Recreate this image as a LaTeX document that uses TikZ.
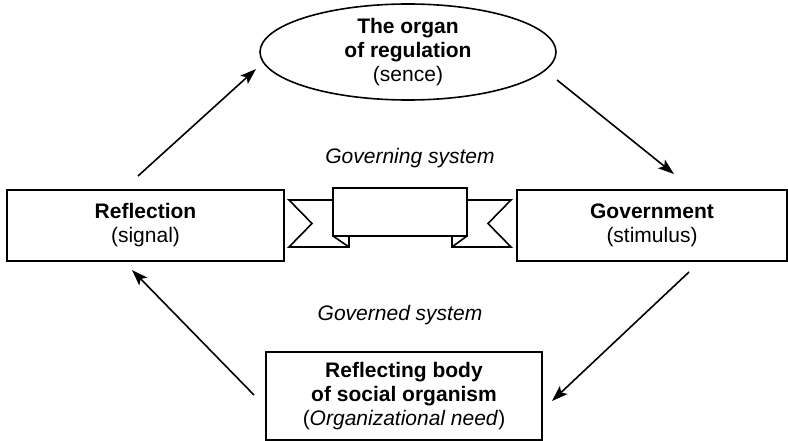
\documentclass[tikz,border=0pt]{standalone}
\usepackage{fontspec}
\setmainfont{Liberation Sans}
\usetikzlibrary{shapes.geometric,arrows.meta}

\begin{document}
\begin{tikzpicture}[x=1pt,y=-1pt,
  txt/.style={font=\fontsize{21}{24}\selectfont, align=center, inner sep=0pt},
  box/.style={txt, draw, line width=1.6pt},
  oval/.style={txt, draw, line width=1.6pt, ellipse},
  arr/.style={line width=1.6pt, -{Stealth[length=16pt,width=11pt,inset=3.5pt]}},
  band/.style={draw, line width=1.6pt, line join=miter, fill=white}
]
\useasboundingbox (0,0) rectangle (788,441);

% the three boxes and the oval
\node[oval, minimum width=296pt, minimum height=96pt] (organ) at (408,52)
  {\textbf{The organ}\\\textbf{of regulation}\\(sence)};
\node[box, minimum width=277pt, minimum height=71pt] (refl) at (145.5,225.5)
  {\textbf{Reflection}\\(signal)};
\node[box, minimum width=270pt, minimum height=71pt] (gov) at (652,225.5)
  {\textbf{Government}\\(stimulus)};
\node[box, minimum width=276pt, minimum height=88pt] (body) at (404,396)
  {\textbf{Reflecting body}\\\textbf{of social organism}\\(\textit{Organizational need})};

% captions of the two systems
\node[txt, font=\fontsize{21}{24}\selectfont\itshape] (governing) at (410,158) {Governing system};
\node[txt, font=\fontsize{21}{24}\selectfont\itshape] (governed) at (400,315) {Governed system};

% ribbon between the systems
\draw[band] (333,200) -- (289,200) -- (312,223.5) -- (289,247) -- (349,247) -- (349,236);
\draw[band] (467,200) -- (511,200) -- (488,223.5) -- (511,247) -- (452,247) -- (452,236);
\draw[line width=1.6pt] (333,236) -- (349,247);
\draw[line width=1.6pt] (467,236) -- (452,247);
\node[draw, line width=1.6pt, fill=white, minimum width=134pt, minimum height=48pt, inner sep=0pt] (banner) at (400,212) {};

% cycle of arrows
\coordinate (a1s) at (138,176);
\coordinate (a1e) at (256,69);
\coordinate (a2s) at (557,80);
\coordinate (a2e) at (674,174);
\coordinate (a3s) at (689,272);
\coordinate (a3e) at (552,401);
\coordinate (a4s) at (254,395);
\coordinate (a4e) at (132,270);
\draw[arr] (a1s) -- (a1e);
\draw[arr] (a2s) -- (a2e);
\draw[arr] (a3s) -- (a3e);
\draw[arr] (a4s) -- (a4e);
\end{tikzpicture}
\end{document}
